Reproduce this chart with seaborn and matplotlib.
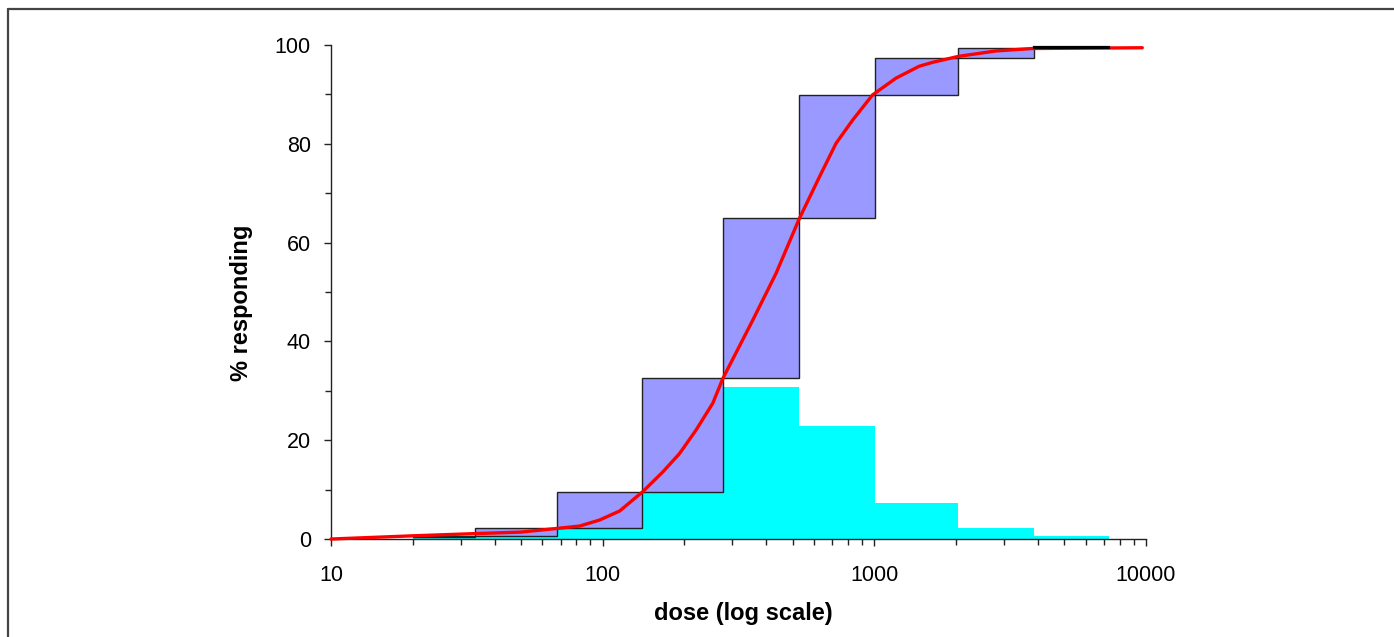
import numpy as np
import matplotlib
matplotlib.use("Agg")
import matplotlib.pyplot as plt
from matplotlib.lines import Line2D
from matplotlib.ticker import MultipleLocator, FixedLocator
import seaborn as sns

# bin edges of the dose classes (log scale)
bin_edges = [20, 34, 68, 140, 277, 529, 1009, 2037, 3870, 7300]
# cumulative % responding at each bin edge (purple boxes span cum[i] .. cum[i+1])
cum_pct = [0.4, 0.7, 2.2, 9.6, 32.5, 65.0, 89.8, 97.4, 99.45, 99.7]
# % responding within each bin (cyan histogram)
bin_pct = [0.35, 1.5, 6.5, 20.5, 30.8, 22.9, 7.3, 2.3, 0.55]

# fitted dose-response curve
curve_dose = [10, 20, 34, 50, 69.5, 82.3, 97.5, 115.5, 140.6, 166.7, 191.9, 221,
              254.4, 277, 356.9, 435, 529, 628, 723, 832, 985, 1202, 1462,
              1640, 2037, 2800, 3820, 9690]
curve_pct = [0.0, 0.65, 1.1, 1.4, 2.2, 2.63, 3.85, 5.67, 9.6, 13.6, 17.3, 22.1,
             27.5, 32.5, 44.3, 53.8, 64.8, 73.3, 80.1, 84.8, 89.9, 93.3, 95.7,
             96.5, 97.7, 98.8, 99.3, 99.45]

sns.set_style("ticks")
plt.rcParams["font.family"] = ["Liberation Sans", "DejaVu Sans"]
plt.rcParams["text.color"] = "black"
plt.rcParams["axes.labelcolor"] = "black"
plt.rcParams["xtick.color"] = "black"
plt.rcParams["ytick.color"] = "black"

fig = plt.figure(figsize=(13.94, 6.37), dpi=100)
ax = fig.add_axes([0.2374, 0.1538, 0.5847, 0.7755])

edges = np.array(bin_edges, dtype=float)
cum = np.array(cum_pct)
mids = np.sqrt(edges[:-1] * edges[1:])

# cyan: per-bin response histogram (bins are given in log10 units)
sns.histplot(x=mids, weights=bin_pct, bins=list(np.log10(edges)), log_scale=True,
             color="#00ffff", alpha=1, edgecolor="none", linewidth=0,
             ax=ax, zorder=1)

# purple boxes: step in cumulative response over each bin
boxes = ax.bar(edges[:-1], cum[1:] - cum[:-1], bottom=cum[:-1],
               width=edges[1:] - edges[:-1], align="edge",
               color="#9999ff", edgecolor="#222222", linewidth=1.0, zorder=2)
# flat last box shows as a dark bar over the curve
boxes.patches[-1].set_zorder(4)
boxes.patches[-1].set_linewidth(1.6)
boxes.patches[-1].set_edgecolor("black")

# red fitted curve
sns.lineplot(x=curve_dose, y=curve_pct, color="#ff0000", linewidth=2.4,
             ax=ax, zorder=3, clip_on=False)

ax.set_xscale("log")
ax.set_xlim(10, 10000)
ax.set_ylim(0, 100)
ax.yaxis.set_major_locator(MultipleLocator(20))
ax.yaxis.set_minor_locator(MultipleLocator(10))
ax.xaxis.set_major_locator(FixedLocator([10, 100, 1000, 10000]))
ax.set_xticklabels(["10", "100", "1000", "10000"])

sns.despine(ax=ax)
for s in ["left", "bottom"]:
    ax.spines[s].set_color("#222222")
    ax.spines[s].set_linewidth(1.0)

ax.tick_params(axis="both", which="major", direction="out", length=5,
               width=1.0, color="#222222", labelsize=15.5)
ax.tick_params(axis="both", which="minor", direction="out", length=4,
               width=1.0, color="#222222")
ax.tick_params(axis="x", which="major", pad=14)
ax.tick_params(axis="y", which="major", pad=9.5)

ax.set_xlabel("dose (log scale)", fontsize=17, fontweight="bold")
ax.set_ylabel("% responding", fontsize=17, fontweight="bold")
ax.xaxis.set_label_coords(0.506, -0.128)
ax.yaxis.set_label_coords(-0.0957, 0.478)
ax.grid(False)

# outer frame (top and left edge of the picture)
fig.add_artist(Line2D([0.0054, 1.0], [0.9859, 0.9859], color="#444444",
                      linewidth=1.6, transform=fig.transFigure))
fig.add_artist(Line2D([0.0054, 0.0054], [0.0, 0.9859], color="#444444",
                      linewidth=1.6, transform=fig.transFigure))

fig.savefig("out.png", dpi=100)
plt.close(fig)
